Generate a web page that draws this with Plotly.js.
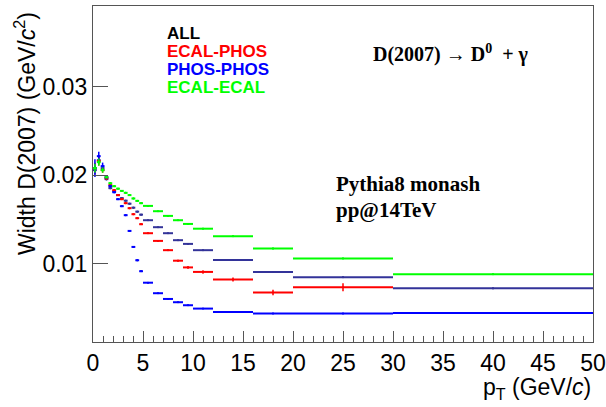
<!DOCTYPE html>
<html>
<head>
<meta charset="utf-8">
<script src="https://cdn.plot.ly/plotly-3.0.1.min.js"></script>
<style>html,body{margin:0;padding:0;background:#fff;}#chart{width:606px;height:407px;}</style>
</head>
<body>
<div id="chart"></div>
<script>
// pT bin edges (GeV/c)
const binEdges = [0, 0.385, 0.769, 1.154, 1.538, 1.923, 2.308, 2.692, 3.077, 3.462, 3.846, 4.231, 4.615, 5, 6, 7, 8, 9, 10, 12, 16, 20, 30, 50];

// Width of D(2007) peak (GeV/c^2), one value per bin
const widthALL = [0.02057, 0.02170, 0.02079, 0.01955, 0.01853, 0.01819, 0.01774, 0.01740, 0.01711, 0.01677, 0.01632, 0.01587, 0.01553,
                  0.01490, 0.01411, 0.01343, 0.01264, 0.01222, 0.01151, 0.01041, 0.00905, 0.00845, 0.00720];
const widthECALPHOS = [0.02079, 0.02159, 0.02057, 0.01966, 0.01887, 0.01830, 0.01774, 0.01728, 0.01683, 0.01626, 0.01558, 0.01513, 0.01445,
                       0.01343, 0.01256, 0.01151, 0.01032, 0.00956, 0.00905, 0.00819, 0.00672, 0.00732, null];
const widthPHOSPHOS = [0.02079, 0.02215, 0.02102, 0.01977, 0.01875, 0.01807, 0.01728, 0.01649, 0.01547, 0.01369, 0.01188, 0.01037, 0.00913,
                       0.00783, 0.00664, 0.00599, 0.00562, 0.00528, 0.00490, 0.00452, 0.00434, 0.00434, 0.00441];
const widthECALECAL = [0.02079, 0.02147, 0.02057, 0.01977, 0.01909, 0.01875, 0.01847, 0.01822, 0.01800, 0.01774, 0.01736, 0.01709, 0.01683,
                       0.01652, 0.01592, 0.01539, 0.01490, 0.01448, 0.01394, 0.01309, 0.01170, 0.01057, 0.00879];

// statistical errors
const errALL = [0.0005, 0.0004, 0.0003, 0.00015, 0.00012, 0.0001, 0.0001, 0.0001, 0.0001, 0.0001, 0.0001, 0.0001, 0.0001,
                0.00008, 0.00008, 0.00008, 0.00008, 0.00008, 0.0001, 0.0001, 0.0001, 0.0001, 0.0001];
const errECALPHOS = [0.0006, 0.0005, 0.0003, 0.0002, 0.00015, 0.00012, 0.0001, 0.0001, 0.0001, 0.0001, 0.0001, 0.0001, 0.0001,
                     0.0001, 0.0001, 0.0001, 0.00012, 0.00015, 0.0002, 0.00022, 0.0003, 0.00045, null];
const errPHOSPHOS = [0.001, 0.0005, 0.0004, 0.0002, 0.00015, 0.00012, 0.0001, 0.0001, 0.0001, 0.0001, 0.0001, 0.0001, 0.0001,
                     0.00008, 0.00008, 0.00008, 0.00008, 0.00008, 0.00008, 0.00008, 0.00008, 0.00008, 0.0001];
const errECALECAL = [0.0005, 0.0004, 0.0003, 0.00015, 0.00012, 0.0001, 0.0001, 0.0001, 0.0001, 0.0001, 0.0001, 0.0001, 0.0001,
                     0.00008, 0.00008, 0.00008, 0.00008, 0.00008, 0.0001, 0.0001, 0.0001, 0.0001, 0.0001];

const seriesNames = ["ALL", "ECAL-PHOS", "PHOS-PHOS", "ECAL-ECAL"];
const xTickVals = [0, 5, 10, 15, 20, 25, 30, 35, 40, 45, 50];
const xTickText = ["0", "5", "10", "15", "20", "25", "30", "35", "40", "45", "50"];
const yTickVals = [0.01, 0.02, 0.03];
const yTickText = ["0.01", "0.02", "0.03"];

const centers = [], halfW = [];
for (let i = 0; i < binEdges.length - 1; i++) {
  centers.push((binEdges[i] + binEdges[i + 1]) / 2);
  halfW.push((binEdges[i + 1] - binEdges[i]) / 2);
}

function mk(name, ys, errs, color) {
  return {
    type: 'scatter', mode: 'markers', name: name,
    x: centers, y: ys,
    marker: {size: 2, color: color},
    error_x: {type: 'data', array: halfW, symmetric: true, width: 0, thickness: 2, color: color},
    error_y: {type: 'data', array: errs, symmetric: true, width: 0, thickness: 1.5, color: color},
    showlegend: false, hoverinfo: 'x+y'
  };
}

const cNavy = '#333399', cRed = '#ff0000', cBlue = '#0000ff', cGreen = '#00ff00';
const traces = [
  mk(seriesNames[0], widthALL, errALL, cNavy),
  mk(seriesNames[1], widthECALPHOS, errECALPHOS, cRed),
  mk(seriesNames[2], widthPHOSPHOS, errPHOSPHOS, cBlue),
  mk(seriesNames[3], widthECALECAL, errECALECAL, cGreen)
];

const axCol = '#555555';
const legendFont = {family: 'Liberation Sans, Arial, sans-serif', size: 17};
function legAnn(text, color, y) {
  return {xref: 'paper', yref: 'paper', x: 0.144, y: y, xanchor: 'left', yanchor: 'middle', showarrow: false,
          text: '<b>' + text + '</b>', font: Object.assign({}, legendFont, {color: color})};
}
const serif = 'Liberation Serif, Times New Roman, serif';

const layout = {
  width: 606, height: 407,
  margin: {l: 93, r: 13, t: 6, b: 65},
  paper_bgcolor: '#ffffff', plot_bgcolor: '#ffffff',
  font: {family: 'Liberation Sans, Arial, sans-serif', color: '#000'},
  xaxis: {
    range: [0, 50], showgrid: false, zeroline: false,
    showline: true, linecolor: axCol, linewidth: 1.2, mirror: true,
    ticks: 'inside', ticklen: 11, tickcolor: axCol, tickwidth: 1,
    tickmode: 'array', tickvals: xTickVals, ticktext: xTickText,
    tickfont: {size: 23, family: 'Liberation Sans, Arial, sans-serif', color: '#000'},
    minor: {dtick: 1, ticks: 'inside', ticklen: 6, tickcolor: axCol, tickwidth: 1, showgrid: false}
  },
  yaxis: {
    range: [0.00112, 0.03914], showgrid: false, zeroline: false,
    showline: true, linecolor: axCol, linewidth: 1.2, mirror: true,
    ticks: 'inside', ticklen: 15, tickcolor: axCol, tickwidth: 1,
    tickmode: 'array', tickvals: yTickVals, ticktext: yTickText,
    tickfont: {size: 23, family: 'Liberation Sans, Arial, sans-serif', color: '#000'}
  },
  annotations: [
    legAnn(seriesNames[0], '#000000', 0.918),
    legAnn(seriesNames[1], cRed, 0.864),
    legAnn(seriesNames[2], cBlue, 0.810),
    legAnn(seriesNames[3], cGreen, 0.756),
    {xref: 'paper', yref: 'paper', x: 0.716, y: 0.860, xanchor: 'center', yanchor: 'middle', showarrow: false,
     text: '<b>D(2007) → D<sup>0</sup>  + γ</b>', font: {family: serif, size: 20, color: '#000'}},
    {xref: 'paper', yref: 'paper', x: 0.482, y: 0.470, xanchor: 'left', yanchor: 'middle', showarrow: false,
     text: '<b>Pythia8 monash</b>', font: {family: serif, size: 21, color: '#000'}},
    {xref: 'paper', yref: 'paper', x: 0.482, y: 0.392, xanchor: 'left', yanchor: 'middle', showarrow: false,
     text: '<b>pp@14TeV</b>', font: {family: serif, size: 21, color: '#000'}},
    {xref: 'paper', yref: 'paper', x: 1.0, y: -0.137, xanchor: 'right', yanchor: 'middle', showarrow: false,
     text: 'p<sub>T</sub> (GeV/<i>c</i>)', font: {size: 23, color: '#000'}},
    {xref: 'paper', yref: 'paper', x: -0.136, y: 0.619, xanchor: 'center', yanchor: 'middle', showarrow: false, textangle: -90,
     text: 'Width D(2007) (GeV/<i>c</i><sup>2</sup>)', font: {size: 23, color: '#000'}}
  ]
};

Plotly.newPlot('chart', traces, layout, {displayModeBar: false, staticPlot: true});
</script>
</body>
</html>
